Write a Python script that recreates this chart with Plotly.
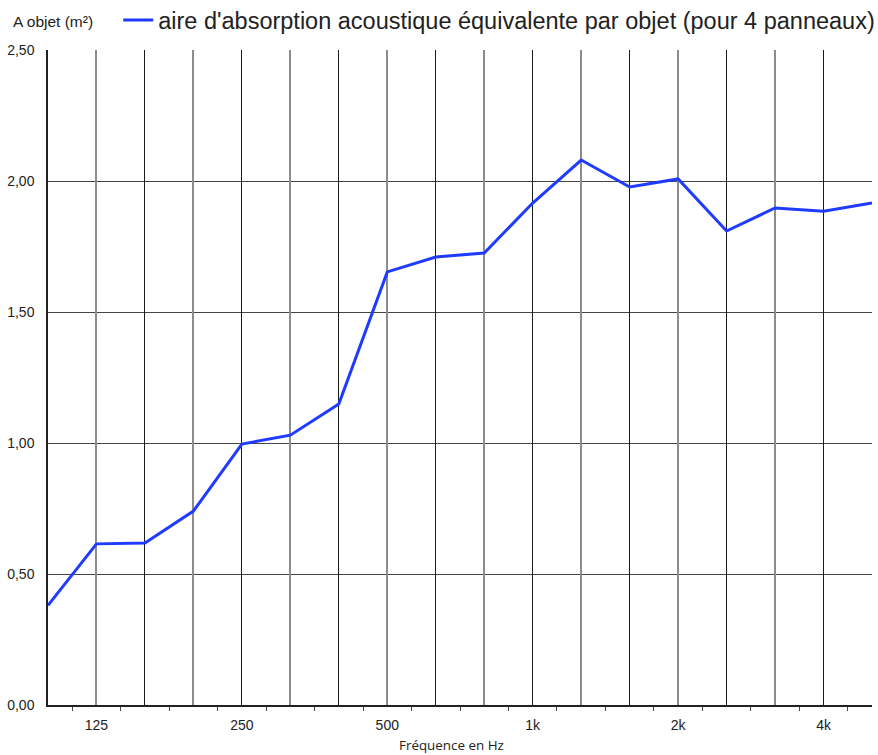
import plotly.graph_objects as go

freqs = ["100", "125", "160", "200", "250", "315", "400", "500", "630", "800",
         "1k", "1.25k", "1.6k", "2k", "2.5k", "3.15k", "4k", "5k"]
absorption = [0.38, 0.615, 0.618, 0.74, 0.996, 1.03, 1.149, 1.653, 1.71, 1.725,
              1.916, 2.08, 1.977, 2.008, 1.809, 1.897, 1.885, 1.916]
tick_labels = ["125", "250", "500", "1k", "2k", "4k"]
series_name = "aire d'absorption acoustique équivalente par objet (pour 4 panneaux)"

idx = list(range(len(freqs)))
label_pos = [freqs.index(t) for t in tick_labels]
even_pos = [i for i in idx if i % 2 == 0]
odd_pos = [i for i in idx if i % 2 == 1]
half_pos = [i + 0.5 for i in idx[:-1]]

fig = go.Figure()
fig.add_trace(go.Scatter(x=[0, 17], y=[None, None], xaxis="x3", yaxis="y", showlegend=False, hoverinfo="skip"))
fig.add_trace(go.Scatter(x=[0, 17], y=[None, None], xaxis="x2", yaxis="y", showlegend=False, hoverinfo="skip"))
fig.add_trace(go.Scatter(x=idx, y=absorption, mode="lines", name=series_name,
                         line=dict(color="#1f3bff", width=3), xaxis="x", yaxis="y"))

rng = [0, len(freqs) - 1]
fig.update_layout(
    width=878, height=755,
    margin=dict(l=48, r=6, t=50, b=50, autoexpand=False),
    paper_bgcolor="white", plot_bgcolor="white",
    separators=",.",
    font=dict(family="Liberation Sans, Arial, sans-serif", color="#222", size=14),
    showlegend=True,
    legend=dict(x=1.01, xanchor="right", y=1.012, yanchor="bottom", orientation="h",
                font=dict(size=23.5, color="#222"), itemwidth=30, bgcolor="rgba(0,0,0,0)",
                tracegroupgap=0),
    xaxis=dict(range=rng, tickmode="array", tickvals=label_pos, ticktext=tick_labels,
               showgrid=False, zeroline=False, showline=True, linecolor="#222", linewidth=1.5,
               ticks="", tickfont=dict(size=14, color="#222"), ticklabelstandoff=6,
               minor=dict(tickmode="array", tickvals=half_pos, ticks="outside", ticklen=4,
                          tickcolor="#444", showgrid=False)),
    xaxis2=dict(range=rng, overlaying="x", tickmode="array", tickvals=even_pos,
                showticklabels=False, showgrid=True, gridcolor="#1a1a1a", gridwidth=1.2,
                zeroline=False, showline=False, ticks=""),
    xaxis3=dict(range=rng, overlaying="x", tickmode="array", tickvals=odd_pos,
                showticklabels=False, showgrid=True, gridcolor="#8c8c8c", gridwidth=2,
                zeroline=False, showline=False, ticks=""),
    yaxis=dict(range=[0, 2.5], tickmode="linear", tick0=0, dtick=0.5, tickformat=".2f",
               showgrid=True, gridcolor="#444444", gridwidth=1.4, zeroline=False,
               showline=True, linecolor="#222", linewidth=1.5, mirror=False,
               ticks="", tickfont=dict(size=14, color="#222"), ticklabelstandoff=9),
    annotations=[
        dict(text="A objet (m²)", xref="paper", yref="paper", x=-0.045, y=1.043,
             xanchor="left", yanchor="middle", showarrow=False,
             font=dict(size=15.5, color="#222")),
        dict(text="Fréquence en Hz", xref="paper", yref="paper", x=0.49, y=-0.061,
             xanchor="center", yanchor="middle", showarrow=False,
             font=dict(family="Open Sans, sans-serif", size=13.4, color="#222")),
    ],
)

fig.write_html("out.html", config={"displayModeBar": False},
               post_script="document.body.style.margin='0';document.body.style.overflow='hidden';")
